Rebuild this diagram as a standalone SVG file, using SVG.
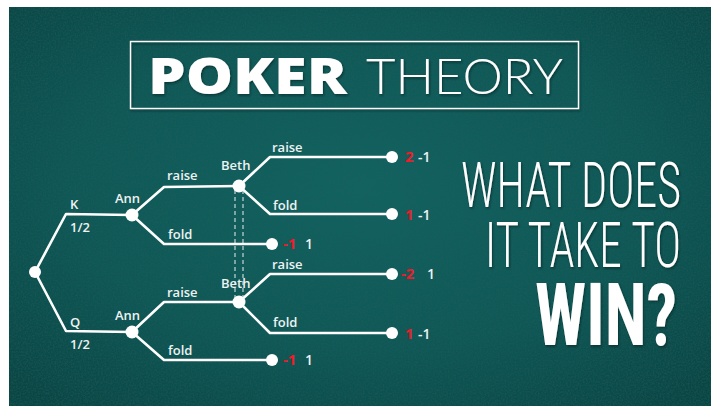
<svg xmlns="http://www.w3.org/2000/svg" width="711" height="406" viewBox="0 0 711 406">
  <defs>
    <radialGradient id="felt" cx="0.5" cy="0.45" r="0.7">
      <stop offset="0" stop-color="#0f6462"/>
      <stop offset="0.6" stop-color="#0c5856"/>
      <stop offset="1" stop-color="#084644"/>
    </radialGradient>
    <filter id="grain" x="0" y="0" width="100%" height="100%">
      <feTurbulence type="fractalNoise" baseFrequency="0.6" numOctaves="2" seed="7" result="n"/>
      <feColorMatrix in="n" type="matrix" values="0 0 0 0 0.02  0 0 0 0 0.1  0 0 0 0 0.1  0 0 0 -1.8 1.2"/>
    </filter>
    <filter id="shadow" filterUnits="userSpaceOnUse" x="0" y="0" width="711" height="406">
      <feDropShadow dx="1" dy="1.5" stdDeviation="1" flood-color="#002220" flood-opacity="0.6"/>
    </filter>
  </defs>
  <style>
    .edge { fill: none; stroke: #ffffff; stroke-width: 2.6; stroke-linejoin: round; }
    .dash { fill: none; stroke: #e8eeee; stroke-width: 1; stroke-dasharray: 4 3; }
    .node { fill: #ffffff; }
    .lbl { font-family: "Open Sans", "Noto Sans", sans-serif; font-size: 13px; font-weight: 600; fill: #eef2f1; }
    .pay { font-family: "Open Sans", "Noto Sans", sans-serif; font-size: 14px; font-weight: 600; fill: #eef2f1; }
    .red { fill: #ee1c2a; font-weight: 700; font-size: 15px; }
    .head { font-family: "Roboto Condensed", "Liberation Sans Narrow", "DejaVu Sans Condensed", Roboto, sans-serif; fill: #ffffff; }
  </style>

  <!-- frame and felt background -->
  <rect x="0" y="0" width="711" height="406" fill="#ffffff"/>
  <rect x="9" y="7" width="702" height="399" fill="url(#felt)"/>
  <rect x="9" y="7" width="702" height="399" filter="url(#grain)" opacity="0.6"/>

  <!-- title box -->
  <g id="title" filter="url(#shadow)">
    <rect x="130.5" y="41.5" width="448" height="67" fill="none" stroke="#ffffff" stroke-width="1.4"/>
    <text x="148" y="94" font-family="'Open Sans', 'Noto Sans', sans-serif" font-size="50" font-weight="800" fill="#ffffff" textLength="199" lengthAdjust="spacingAndGlyphs">POKER</text>
    <text x="366" y="94" font-family="'Lato', 'Open Sans', sans-serif" font-size="50" font-weight="300" fill="#ffffff" textLength="197" lengthAdjust="spacingAndGlyphs">THEORY</text>
  </g>

  <!-- connectors -->
  <g id="connectors">
    <path class="edge" d="M35,272 L66,214 L132,215"/>
    <path class="edge" d="M35,272 L66,331 L132,332"/>
    <path class="edge" d="M132,215 L164,187 L239,186"/>
    <path class="edge" d="M132,215 L164,244 L272,244"/>
    <path class="edge" d="M239,186 L270,157 L392,157"/>
    <path class="edge" d="M239,186 L270,214 L392,214"/>
    <path class="edge" d="M132,332 L164,302 L239,302"/>
    <path class="edge" d="M132,332 L164,360 L272,360"/>
    <path class="edge" d="M239,302 L270,274 L392,274"/>
    <path class="edge" d="M239,302 L270,333 L392,333"/>
    <line class="dash" x1="235" y1="190" x2="235" y2="298"/>
    <line class="dash" x1="243" y1="190" x2="243" y2="298"/>
  </g>

  <!-- chance node -->
  <g id="root"><circle class="node" cx="35" cy="272" r="6"/></g>
  <g id="label-k">
    <text class="lbl" x="70" y="209" font-size="14">K</text>
    <text class="lbl" x="70" y="232">1/2</text>
  </g>
  <g id="label-q">
    <text class="lbl" x="70" y="327" font-size="14">Q</text>
    <text class="lbl" x="70" y="349">1/2</text>
  </g>

  <!-- Ann with K -->
  <g id="ann-k">
    <circle class="node" cx="132" cy="215" r="6.5"/>
    <text class="lbl" x="115" y="203">Ann</text>
    <text class="lbl" x="167" y="180">raise</text>
    <text class="lbl" x="168" y="239">fold</text>
  </g>
  <!-- Ann with Q -->
  <g id="ann-q">
    <circle class="node" cx="132" cy="332" r="6.5"/>
    <text class="lbl" x="115" y="320">Ann</text>
    <text class="lbl" x="167" y="297">raise</text>
    <text class="lbl" x="168" y="355">fold</text>
  </g>

  <!-- Beth after K raise -->
  <g id="beth-k">
    <circle class="node" cx="239" cy="186" r="6.5"/>
    <text class="lbl" x="221" y="170">Beth</text>
    <text class="lbl" x="272" y="152">raise</text>
    <text class="lbl" x="273" y="210">fold</text>
  </g>
  <!-- Beth after Q raise -->
  <g id="beth-q">
    <circle class="node" cx="239" cy="302" r="6.5"/>
    <text class="lbl" x="221" y="288">Beth</text>
    <text class="lbl" x="272" y="269">raise</text>
    <text class="lbl" x="273" y="327">fold</text>
  </g>

  <!-- payoffs -->
  <g id="leaf-k-raise-raise">
    <circle class="node" cx="392" cy="157" r="6"/>
    <text class="pay red" x="405" y="162">2</text>
    <text class="pay" x="418" y="162">-1</text>
  </g>
  <g id="leaf-k-raise-fold">
    <circle class="node" cx="392" cy="214" r="6"/>
    <text class="pay red" x="405" y="220">1</text>
    <text class="pay" x="418" y="220">-1</text>
  </g>
  <g id="leaf-k-fold">
    <circle class="node" cx="272" cy="244" r="6"/>
    <text class="pay red" x="283" y="249">-1</text>
    <text class="pay" x="305" y="249">1</text>
  </g>
  <g id="leaf-q-raise-raise">
    <circle class="node" cx="392" cy="274" r="6"/>
    <text class="pay red" x="401" y="279">-2</text>
    <text class="pay" x="427" y="279">1</text>
  </g>
  <g id="leaf-q-raise-fold">
    <circle class="node" cx="392" cy="333" r="6"/>
    <text class="pay red" x="405" y="339">1</text>
    <text class="pay" x="418" y="339">-1</text>
  </g>
  <g id="leaf-q-fold">
    <circle class="node" cx="272" cy="360" r="6"/>
    <text class="pay red" x="283" y="365">-1</text>
    <text class="pay" x="305" y="365">1</text>
  </g>

  <!-- headline -->
  <g id="headline" filter="url(#shadow)">
    <text class="head" x="461" y="207" font-size="63" font-weight="300" textLength="220" lengthAdjust="spacingAndGlyphs">WHAT DOES</text>
    <text class="head" x="485" y="267" font-size="63" font-weight="300" textLength="196" lengthAdjust="spacingAndGlyphs">IT TAKE TO</text>
    <text class="head" x="535" y="345" font-size="88" font-weight="700" textLength="142" lengthAdjust="spacingAndGlyphs">WIN?</text>
  </g>
</svg>
